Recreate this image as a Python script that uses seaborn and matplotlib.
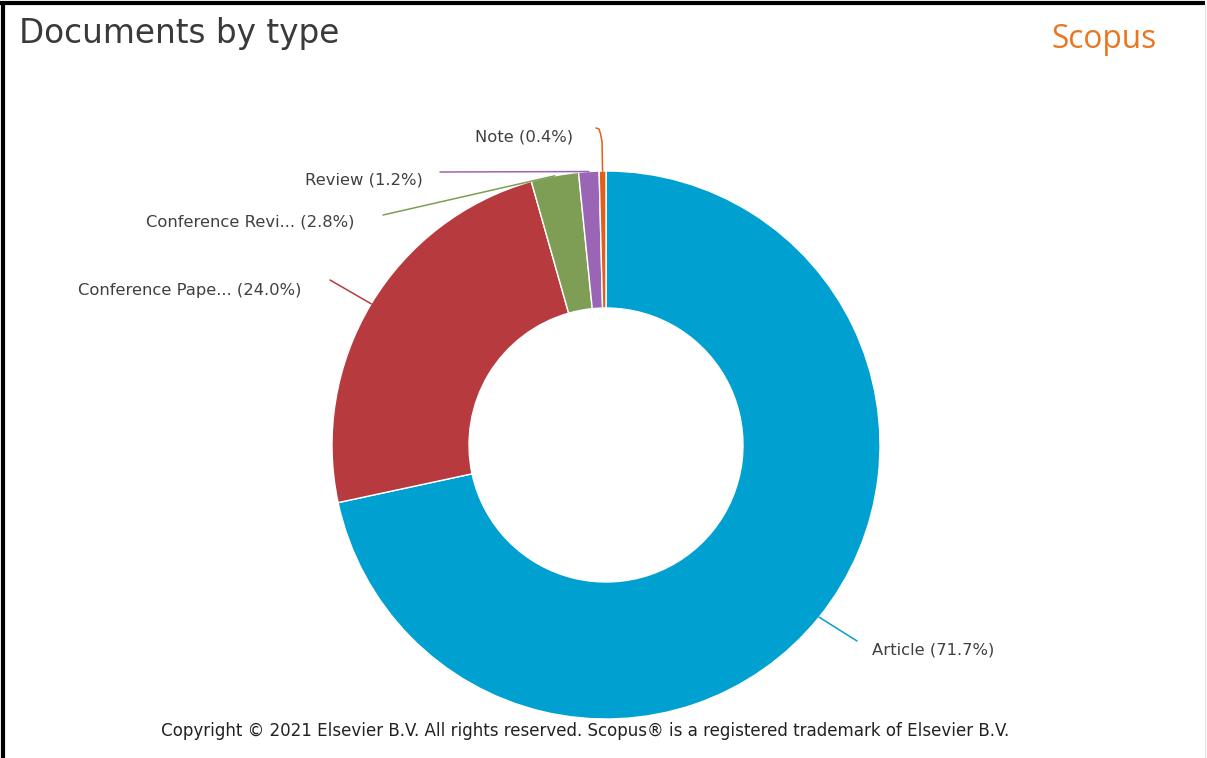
import numpy as np
import matplotlib
matplotlib.use("Agg")
import matplotlib.pyplot as plt
import seaborn as sns

# Document type shares (percent)
doc_types = ["Article", "Conference Pape...", "Conference Revi...", "Review", "Note"]
shares = [71.7, 24.0, 2.8, 1.2, 0.4]
slice_colors = ["#00a0d0", "#b73a3f", "#7e9e55", "#9b65b5", "#e0601a"]

sns.set_theme(style="white")
plt.rcParams["font.family"] = ["DejaVu Sans"]

W, H = 1207, 758
fig = plt.figure(figsize=(W / 100, H / 100), dpi=100)
ax = fig.add_axes([0, 0, 1, 1])

cx, cy = 606, H - 445
r_out, ring = 274, 137

palette = sns.color_palette(slice_colors)
wedges, _ = ax.pie(shares, colors=palette, startangle=90, counterclock=False,
                   center=(cx, cy), radius=r_out, normalize=True,
                   wedgeprops=dict(width=ring, edgecolor="white", linewidth=1.0))
ax.set_xlim(0, W)
ax.set_ylim(0, H)
ax.set_aspect("equal")
ax.axis("off")

# connector end and text anchor for each label, in pixel coords
label_layout = [
    ((857, 641), (872, 650), "left"),
    ((330, 280), (302, 290), "right"),
    ((383, 215), (355, 222), "right"),
    ((440, 172), (423, 180), "right"),
    ((596, 128), (573, 137), "right"),
]

for w, name, val, col, (end, txt, ha) in zip(wedges, doc_types, shares, slice_colors, label_layout):
    mid = np.deg2rad((w.theta1 + w.theta2) / 2)
    sx = cx + r_out * np.cos(mid)
    sy = cy + r_out * np.sin(mid)
    ex, ey = end[0], H - end[1]
    if name == "Note":
        xs = [sx, sx - 0.5, sx - 2, ex + 3, ex]
        ys = [sy, ey - 14, ey - 6, ey - 1, ey]
    else:
        xs = [sx, ex]
        ys = [sy, ey]
    ax.plot(xs, ys, color=col, lw=1.1, solid_capstyle="round", solid_joinstyle="round")
    ax.text(txt[0], H - txt[1], f"{name} ({val:.1f}%)", ha=ha, va="center",
            fontsize=11.8, color="#404040")

fig.text(19 / W, 1 - 34 / H, "Documents by type", ha="left", va="center",
         fontsize=23.6, color="#3a3a3a")
fig.text(1104 / W, 1 - 39 / H, "Scopus", ha="center", va="center",
         fontsize=22.8, color="#e87722", family=["Open Sans", "DejaVu Sans"])
fig.text(585 / W, 1 - 731 / H,
         "Copyright \u00a9 2021 Elsevier B.V. All rights reserved. Scopus\u00ae is a registered trademark of Elsevier B.V.",
         ha="center", va="center", fontsize=13.3, color="#222222",
         fontstretch="condensed")

# frame: dark top and left edges, faint right edge
ax.plot([2.5, 2.5], [0, H - 2.5], color="black", lw=3, solid_capstyle="butt")
ax.plot([0, 1205], [H - 2.5, H - 2.5], color="black", lw=3, solid_capstyle="butt")
ax.plot([1205, 1205], [0, H - 4], color="#e6e6e6", lw=1)

fig.savefig("out.png", dpi=100)
